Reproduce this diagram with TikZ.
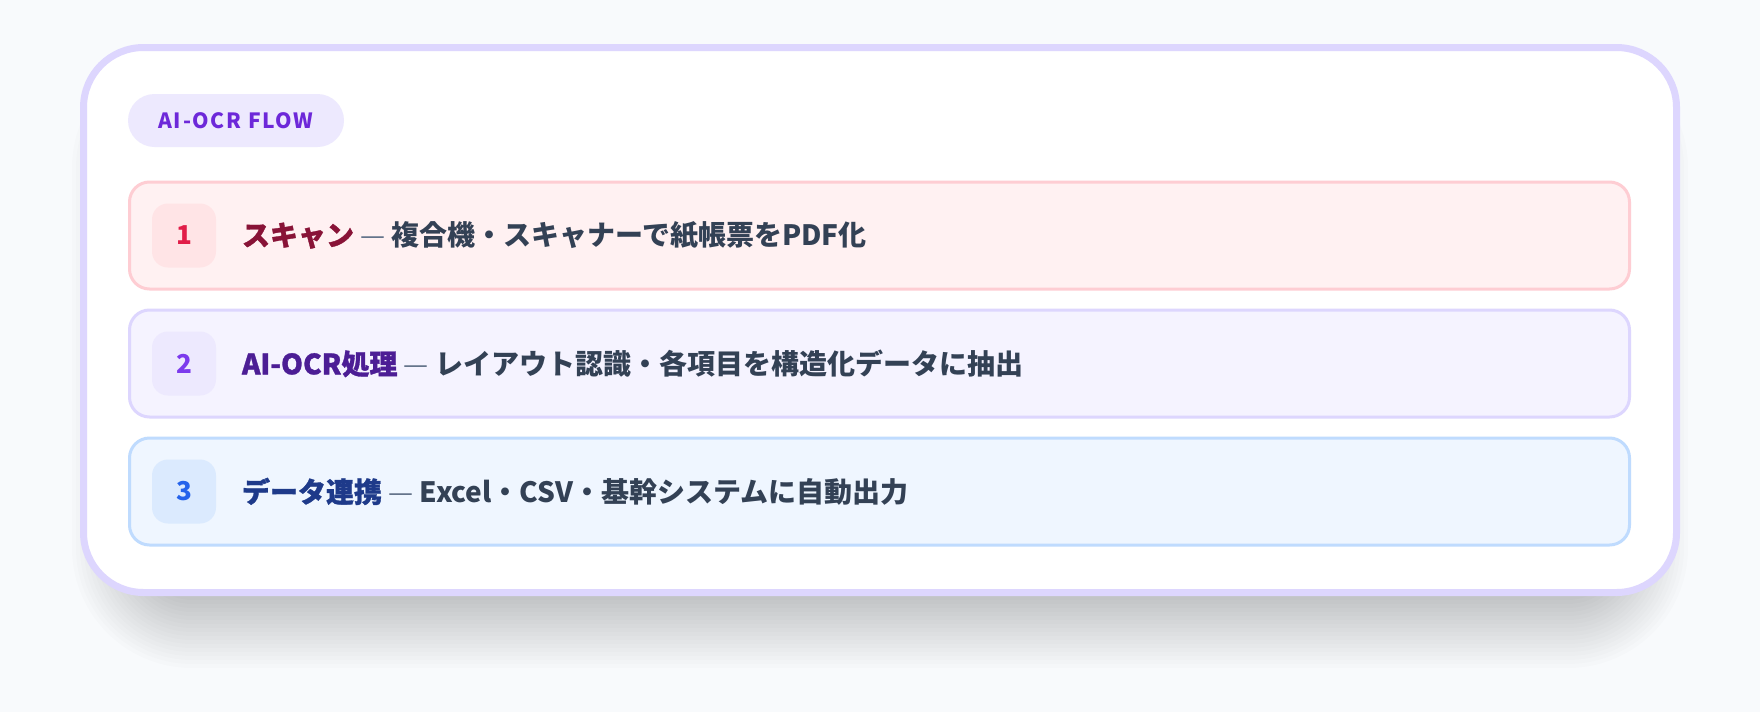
\documentclass[tikz,border=0pt]{standalone}
\usepackage{fontspec}
\setmainfont{Noto Sans CJK JP}
\newfontfamily\heavyfont{Noto Sans CJK JP}[BoldFeatures={FakeBold=1.1}]
\usepackage{tikz}
\usetikzlibrary{positioning}
\definecolor{pagebg}{HTML}{F8FAFC}
\definecolor{cardline}{HTML}{DDD6FE}
\definecolor{pillfill}{HTML}{EDE9FE}
\definecolor{pilltext}{HTML}{6D28D9}
\definecolor{bodytext}{HTML}{334155}
\definecolor{dashtext}{HTML}{64748B}
% scan row
\definecolor{scanline}{HTML}{FECDD3}
\definecolor{scanfill}{HTML}{FFF1F2}
\definecolor{scanbadge}{HTML}{FFE4E6}
\definecolor{scannum}{HTML}{E11D48}
\definecolor{scantitle}{HTML}{881337}
% ocr row
\definecolor{ocrline}{HTML}{DDD6FE}
\definecolor{ocrfill}{HTML}{F5F3FF}
\definecolor{ocrbadge}{HTML}{EDE9FE}
\definecolor{ocrnum}{HTML}{7C3AED}
\definecolor{ocrtitle}{HTML}{4C1D95}
% export row
\definecolor{expline}{HTML}{BFDBFE}
\definecolor{expfill}{HTML}{EFF6FF}
\definecolor{expbadge}{HTML}{DBEAFE}
\definecolor{expnum}{HTML}{2563EB}
\definecolor{exptitle}{HTML}{1E3A8A}
\newcommand{\steptitle}[2]{\textcolor{#1}{\heavyfont\bfseries #2}}
\newcommand{\stepdash}{\textcolor{dashtext}{\mdseries —}}
\tikzset{
  flowcard/.style={draw=cardline, fill=white, line width=3.5pt, rounded corners=30pt,
    minimum width=796.5pt, minimum height=272.5pt, inner sep=0pt, outer sep=0pt},
  flowpill/.style={fill=pillfill, rounded corners=13.25pt, minimum width=108pt,
    minimum height=26.5pt, inner sep=0pt, text=pilltext,
    font=\fontsize{10.5}{13}\selectfont\bfseries\addfontfeature{LetterSpace=8}},
  stepbar/.style 2 args={draw=#1, fill=#2, line width=1.5pt, rounded corners=10pt,
    minimum width=750pt, minimum height=53.5pt, inner sep=0pt, outer sep=0pt},
  numbadge/.style 2 args={fill=#1, text=#2, rounded corners=8pt, minimum size=32pt,
    inner sep=0pt, outer sep=0pt, font=\fontsize{13}{15}\selectfont\bfseries},
  steptext/.style={inner sep=0pt, outer sep=0pt, text=bodytext,
    font=\fontsize{14}{17}\selectfont\bfseries}
}
\begin{document}
\begin{tikzpicture}[x=1pt, y=-1pt]
  % page
  \fill[pagebg] (0,0) rectangle (880,356);
  \useasboundingbox (0,0) rectangle (880,356);
  % soft shadow under the card
  \foreach \s in {0,2,...,36}
    \fill[black, opacity=0.01, rounded corners=24pt+\s pt]
      (72-\s,60-\s) rectangle (808+\s,298+\s);
  % card and tag
  \node[flowcard] (card) at (440,160) {};
  \node[flowpill] (tag) at (118,60.25) {AI-OCR FLOW};
  % step 1
  \node[stepbar={scanline}{scanfill}] (scan) at (439.75,117.75) {};
  \node[numbadge={scanbadge}{scannum}, right=11.25pt of scan.west] (scannr) {1};
  \node[steptext, right=13pt of scannr] (scantxt)
    {\steptitle{scantitle}{スキャン} \stepdash{} 複合機・スキャナーで紙帳票をPDF化};
  % step 2
  \node[stepbar={ocrline}{ocrfill}, below=10.5pt of scan] (ocr) {};
  \node[numbadge={ocrbadge}{ocrnum}, right=11.25pt of ocr.west] (ocrnr) {2};
  \node[steptext, right=13pt of ocrnr] (ocrtxt)
    {\steptitle{ocrtitle}{AI-OCR処理} \stepdash{} レイアウト認識・各項目を構造化データに抽出};
  % step 3
  \node[stepbar={expline}{expfill}, below=10.5pt of ocr] (exp) {};
  \node[numbadge={expbadge}{expnum}, right=11.25pt of exp.west] (expnr) {3};
  \node[steptext, right=13pt of expnr] (exptxt)
    {\steptitle{exptitle}{データ連携} \stepdash{} Excel・CSV・基幹システムに自動出力};
\end{tikzpicture}
\end{document}
